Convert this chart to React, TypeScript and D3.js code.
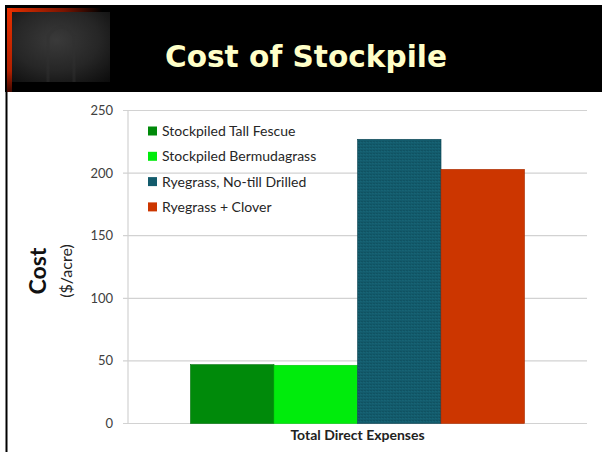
import React from "react";
import { scaleBand, scaleLinear } from "d3";

const categories = ["Total Direct Expenses"];
const seriesNames = [
  "Stockpiled Tall Fescue",
  "Stockpiled Bermudagrass",
  "Ryegrass, No-till Drilled",
  "Ryegrass + Clover",
];
const seriesValues = [47, 46.5, 227, 203];
const seriesColors = ["#008a0a", "#00ec0c", "#135b6c", "#cc3600"];
const seriesStrokes = ["#00700a", "#00c80a", "#0c4452", "#a82c00"];
const yTicks = [0, 50, 100, 150, 200, 250];

const W = 602;
const H = 452;
const plot = { left: 128, right: 587, top: 110.5, bottom: 423.5 };

export default function App() {
  const y = scaleLinear().domain([0, 250]).range([plot.bottom, plot.top]);
  const x0 = scaleBand()
    .domain(categories)
    .range([plot.left, plot.right])
    .paddingInner(0)
    .paddingOuter(0.187);
  const x1 = scaleBand()
    .domain(seriesNames)
    .range([0, x0.bandwidth()]);

  const font = "Lato, 'Open Sans', sans-serif";

  return (
    <svg
      width={W}
      height={H}
      style={{ position: "absolute", left: 0, top: 0, background: "#fff" }}
    >
      <defs>
        <radialGradient id="photo" cx="0.45" cy="0.4" r="0.8">
          <stop offset="0" stopColor="#3a3a3a" />
          <stop offset="0.55" stopColor="#262626" />
          <stop offset="1" stopColor="#0c0c0c" />
        </radialGradient>
        <linearGradient id="redV" x1="0" y1="0" x2="0" y2="1">
          <stop offset="0" stopColor="#e83000" />
          <stop offset="0.75" stopColor="#b02000" />
          <stop offset="1" stopColor="#400800" />
        </linearGradient>
        <linearGradient id="redH" x1="0" y1="0" x2="1" y2="0">
          <stop offset="0" stopColor="#e83000" />
          <stop offset="0.6" stopColor="#7a1400" />
          <stop offset="1" stopColor="#000" />
        </linearGradient>
        <pattern id="hatch" width="3" height="3" patternUnits="userSpaceOnUse">
          <rect width="3" height="3" fill="#135b6c" />
          <rect x="0" y="0" width="1" height="1" fill="#0d4a58" />
          <rect x="2" y="1" width="1" height="1" fill="#1a6a7c" />
        </pattern>
      </defs>

      {/* header */}
      <rect x={5} y={5} width={W - 5} height={87} fill="#000" />
      <rect x={7} y={8} width={95} height={4} fill="url(#redH)" />
      <rect x={7} y={8} width={5} height={84} fill="url(#redV)" />
      <rect x={12} y={12} width={98} height={70} fill="url(#photo)" />
      <path
        d="M48,82 L48,36 Q61,18 74,36 L74,82"
        fill="none"
        stroke="#303030"
        strokeWidth={3}
        opacity={0.45}
      />
      <text
        x={306}
        y={67}
        textAnchor="middle"
        fontFamily="'DejaVu Sans', Verdana, sans-serif"
        fontWeight="bold"
        fontSize={30}
        textLength={282}
        lengthAdjust="spacingAndGlyphs"
        fill="#ffffc8"
      >
        Cost of Stockpile
      </text>
      <rect x={5.5} y={92} width={2} height={H - 92} fill="#000" />

      {/* grid */}
      {yTicks.map((t) => (
        <g key={t}>
          <line
            x1={plot.left - 5}
            x2={plot.right}
            y1={y(t)}
            y2={y(t)}
            stroke="#d2d2d2"
            strokeWidth={1.2}
          />
          <text
            x={113}
            y={y(t) + 4.5}
            textAnchor="end"
            fontFamily={font}
            fontSize={13}
            fill="#404040"
          >
            {t}
          </text>
        </g>
      ))}
      <line
        x1={plot.left}
        x2={plot.left}
        y1={plot.top}
        y2={plot.bottom}
        stroke="#d2d2d2"
        strokeWidth={1.2}
      />

      {/* bars */}
      {categories.map((c) => (
        <g key={c} transform={`translate(${x0(c)},0)`}>
          {seriesNames.map((s, i) => (
            <rect
              key={s}
              x={x1(s)}
              y={y(seriesValues[i])}
              width={x1.bandwidth()}
              height={y(0) - y(seriesValues[i])}
              fill={i === 2 ? "url(#hatch)" : seriesColors[i]}
              stroke={seriesStrokes[i]}
              strokeWidth={0.6}
            />
          ))}
        </g>
      ))}

      {/* x label */}
      {categories.map((c) => (
        <text
          key={c}
          x={(x0(c) ?? 0) + x0.bandwidth() / 2}
          y={440}
          textAnchor="middle"
          fontFamily={font}
          fontWeight="bold"
          fontSize={14}
          fill="#222"
        >
          {c}
        </text>
      ))}

      {/* legend */}
      {seriesNames.map((s, i) => (
        <g key={s} transform={`translate(148,${131 + i * 25.3})`}>
          <rect x={0} y={-4.5} width={9} height={9} fill={seriesColors[i]} />
          <text
            x={14}
            y={5}
            fontFamily={font}
            fontSize={14}
            fill="#262626"
          >
            {s}
          </text>
        </g>
      ))}

      {/* y title */}
      <text
        transform="translate(46,271) rotate(-90)"
        textAnchor="middle"
        fontFamily={font}
        fontWeight="bold"
        fontSize={23}
        fill="#111"
      >
        Cost
      </text>
      <text
        transform="translate(72,271) rotate(-90)"
        textAnchor="middle"
        fontFamily={font}
        fontSize={16}
        fill="#222"
      >
        ($/acre)
      </text>
    </svg>
  );
}
